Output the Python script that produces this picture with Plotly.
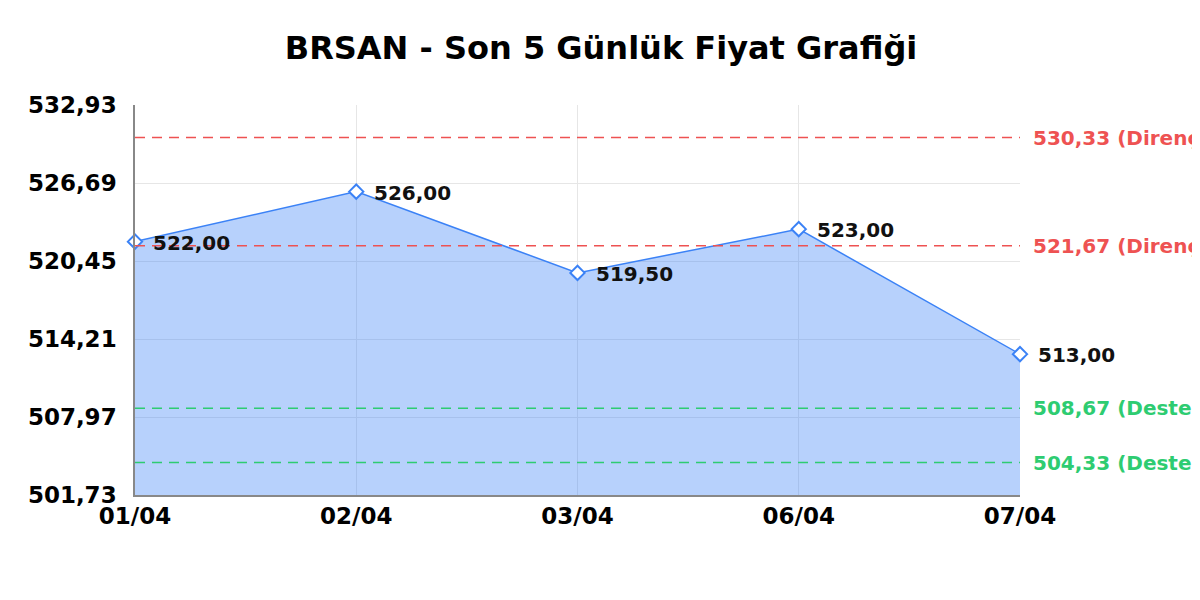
import plotly.graph_objects as go

dates = ["01/04", "02/04", "03/04", "06/04", "07/04"]
prices = [522.00, 526.00, 519.50, 523.00, 513.00]
price_labels = ["522,00", "526,00", "519,50", "523,00", "513,00"]

resistance = [530.33, 521.67]
resistance_labels = ["530,33 (Direnç)", "521,67 (Direnç)"]
support = [508.67, 504.33]
support_labels = ["508,67 (Destek)", "504,33 (Destek)"]

y_ticks = [501.73, 507.97, 514.21, 520.45, 526.69, 532.93]
y_tick_labels = ["501,73", "507,97", "514,21", "520,45", "526,69", "532,93"]

FONT = "DejaVu Sans"
RED = "#ee5252"
GREEN = "#2ecc71"
BLUE = "#3b82f6"

fig = go.Figure()
fig.add_trace(go.Scatter(
    x=dates, y=prices,
    mode="lines+markers",
    fill="tozeroy",
    fillcolor="rgba(59,130,246,0.37)",
    line=dict(color=BLUE, width=1.5),
    marker=dict(symbol="diamond", size=11, color="white",
                line=dict(color=BLUE, width=2)),
    cliponaxis=False,
    showlegend=False,
    hoverinfo="skip",
))

for d, p, lab in zip(dates, prices, price_labels):
    fig.add_annotation(x=d, y=p, xref="x", yref="y", text=lab, showarrow=False,
                       xanchor="left", xshift=16, yshift=-1,
                       font=dict(family=FONT, size=20, color="#111111", weight="bold"))

for val, lab in zip(resistance, resistance_labels):
    fig.add_shape(type="line", xref="paper", x0=0, x1=1, yref="y", y0=val, y1=val,
                  line=dict(color=RED, width=1.6, dash="10px,7px"))
    fig.add_annotation(xref="paper", x=1, xshift=11, xanchor="left", yref="y", y=val,
                       yshift=0, text=lab, showarrow=False,
                       font=dict(family=FONT, size=20, color=RED, weight="bold"))
for val, lab in zip(support, support_labels):
    fig.add_shape(type="line", xref="paper", x0=0, x1=1, yref="y", y0=val, y1=val,
                  line=dict(color=GREEN, width=1.6, dash="10px,7px"))
    fig.add_annotation(xref="paper", x=1, xshift=11, xanchor="left", yref="y", y=val,
                       yshift=0, text=lab, showarrow=False,
                       font=dict(family=FONT, size=20, color=GREEN, weight="bold"))

fig.update_layout(
    width=1200, height=570,
    paper_bgcolor="white", plot_bgcolor="white",
    margin=dict(l=127, r=188, t=97, b=83),
    title=dict(text="BRSAN - Son 5 Günlük Fiyat Grafiği", x=593 / 1200, xanchor="center",
               xref="container", y=1 - 40 / 570, yanchor="middle",
               font=dict(family=FONT, size=32, color="black", weight="bold")),
    xaxis=dict(type="category", range=[0, 4], showgrid=True, gridcolor="#e6e6e6",
               showline=True, linecolor="#888888", linewidth=1.5,
               tickfont=dict(family=FONT, size=23, color="black", weight="bold"),
               ticks="", zeroline=False, ticklabelstandoff=0),
    yaxis=dict(range=[501.73, 532.93], tickvals=y_ticks, ticktext=y_tick_labels,
               showgrid=True, gridcolor="#e6e6e6",
               showline=True, linecolor="#888888", linewidth=1.5,
               tickfont=dict(family=FONT, size=23, color="black", weight="bold"),
               ticks="", zeroline=False, ticklabelstandoff=12),
)

fig.write_html("out.html")
